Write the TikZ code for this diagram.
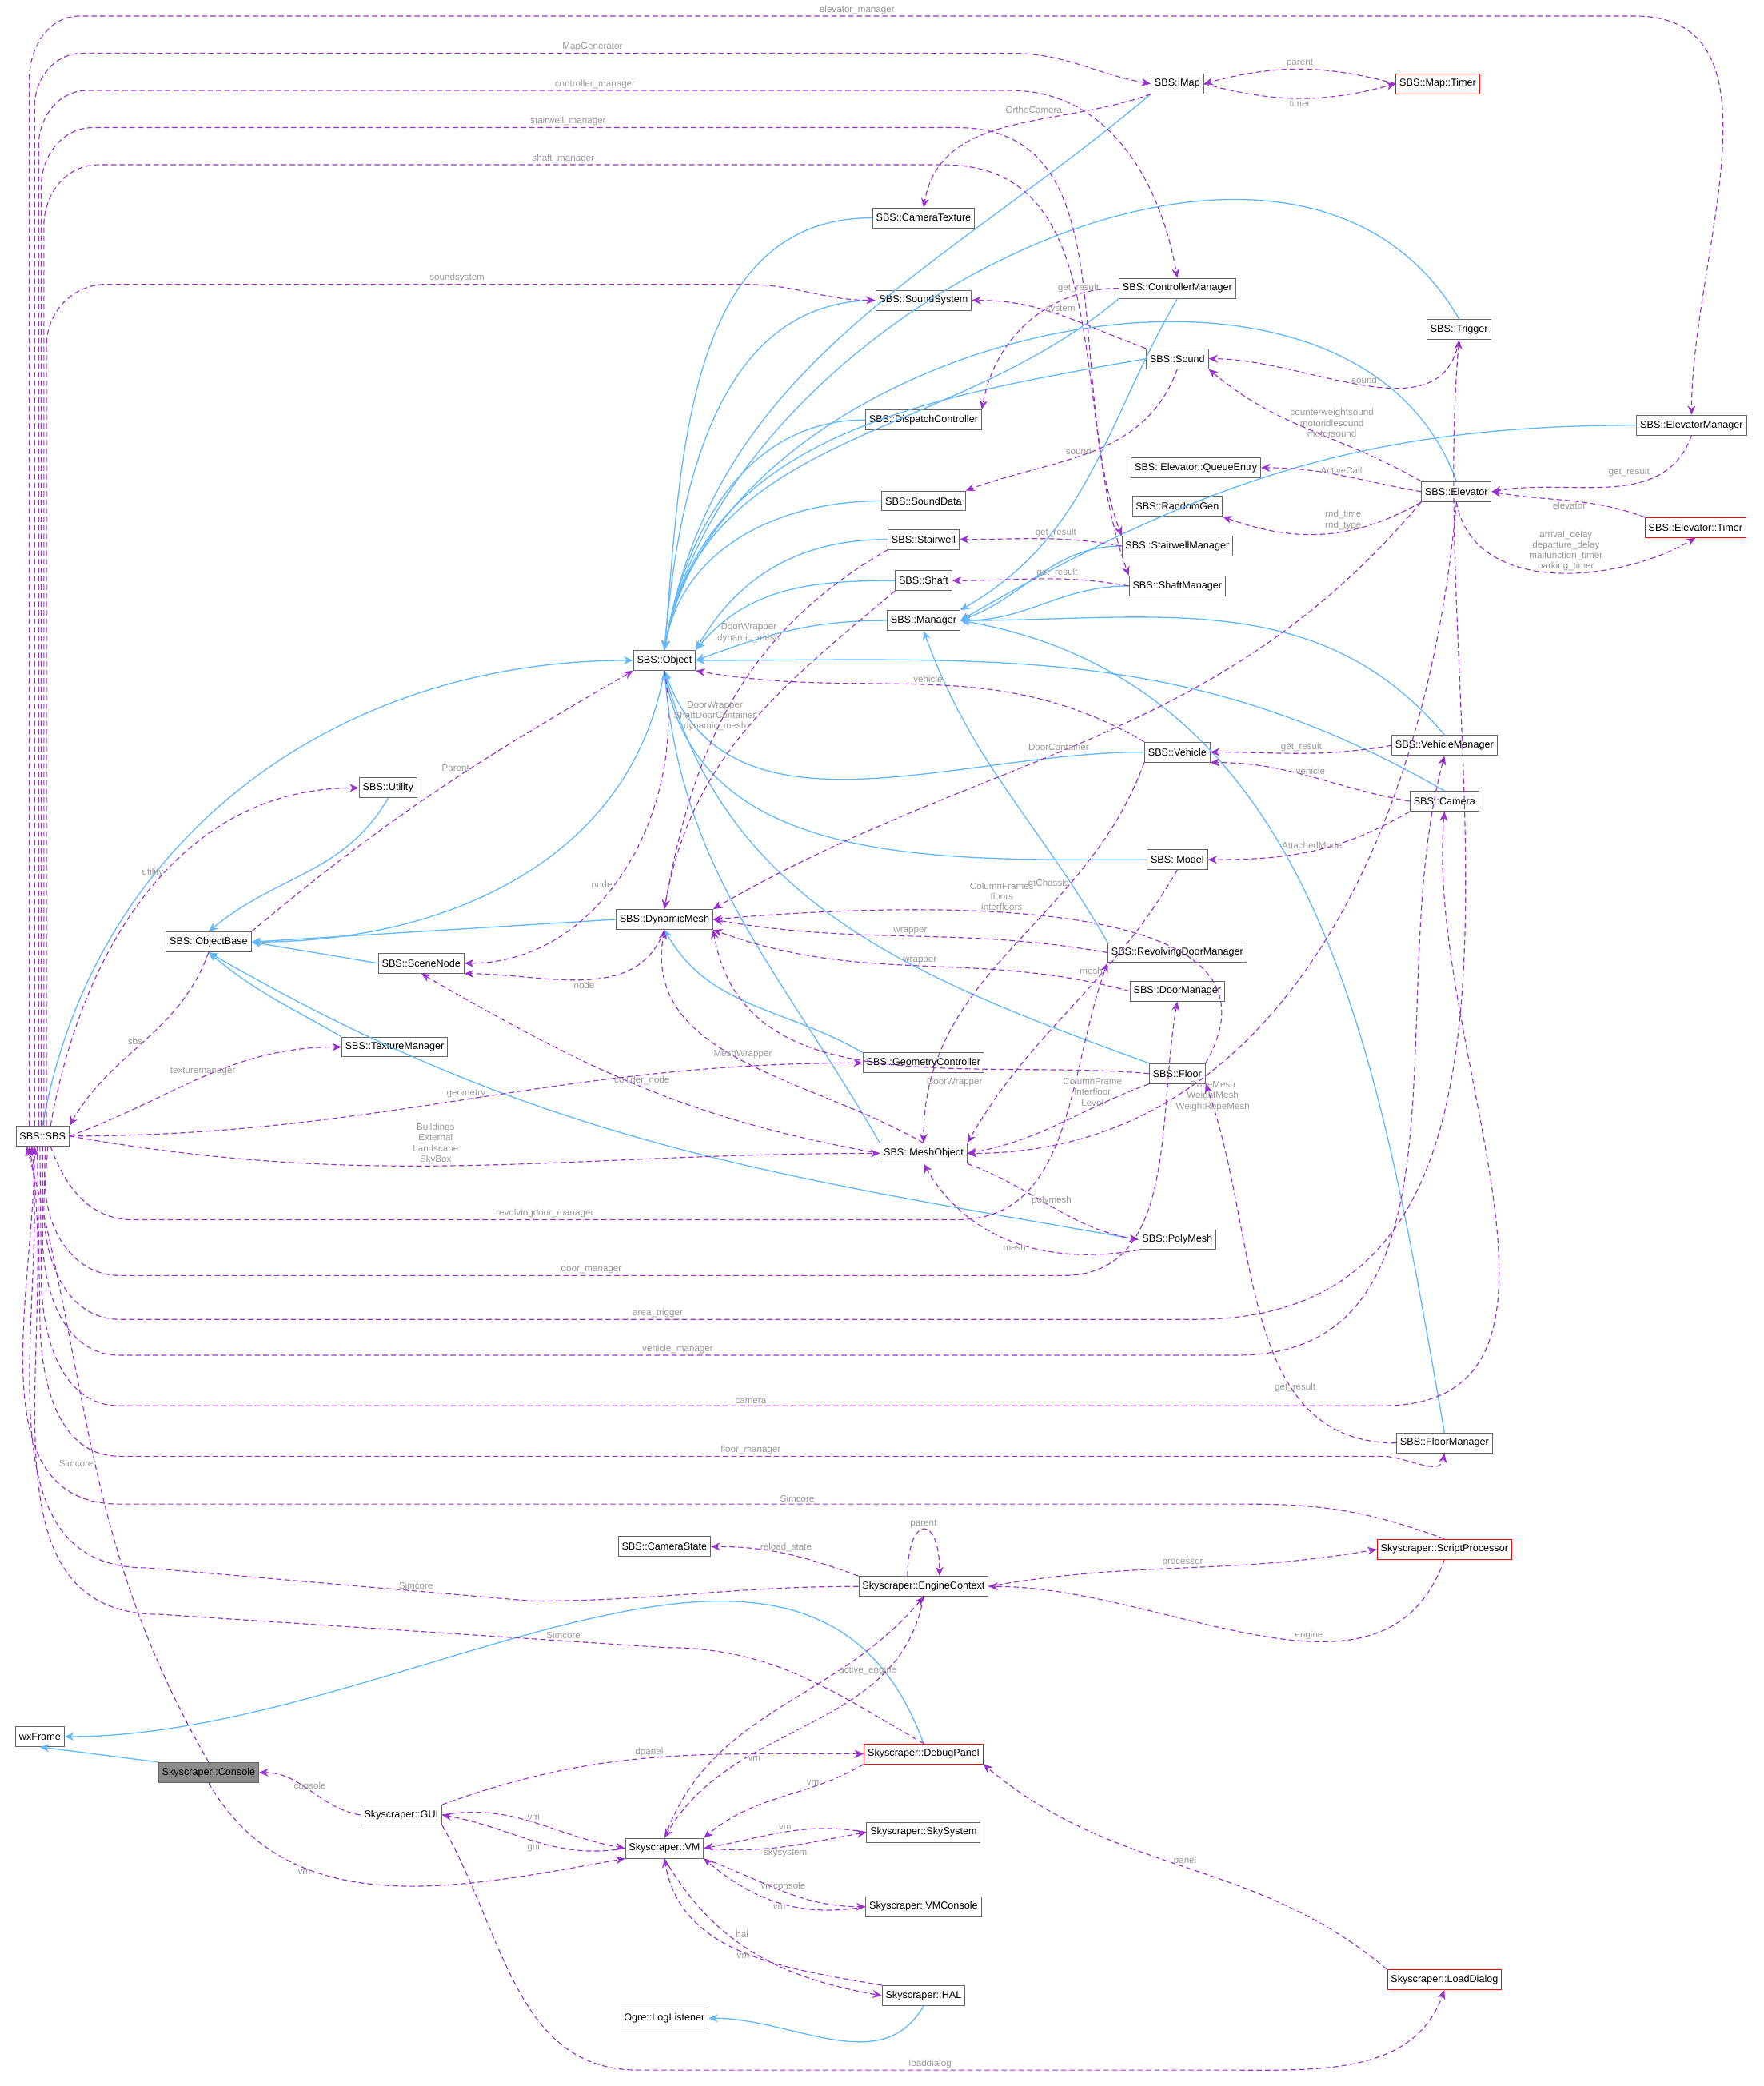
\documentclass[tikz,border=0pt]{standalone}
\usepackage{fontspec}
\setmainfont{Liberation Sans}
\usetikzlibrary{arrows.meta}
\definecolor{inhblue}{HTML}{63B8FF}
\definecolor{usepurple}{HTML}{9A32CD}
\definecolor{lblgray}{HTML}{9A9A9A}
\tikzset{
  cls/.style={draw=black!60, line width=0.3pt, inner sep=1.3pt, minimum height=7.5pt, font=\fontsize{3.8}{4.5}\selectfont},
  redcls/.style={cls, draw=red},
  curcls/.style={cls, fill=black!45},
  inh/.style={draw=inhblue, line width=0.4pt, -{Stealth[length=3.5pt,width=3pt]}},
  use/.style={draw=usepurple, line width=0.35pt, dash pattern=on 2pt off 1.2pt, -{Stealth[length=3.5pt,width=3pt]}},
  lbl/.style={text=lblgray, font=\fontsize{3.5}{4}\selectfont, align=center, inner sep=0.5pt}
}
\begin{document}
\begin{tikzpicture}[x=0.5pt,y=-0.5pt]
\useasboundingbox (0,0) rectangle (1327,1570);
% classes
\node[cls] (sbs) at (32,855) {SBS::SBS};
\node[cls] (wxframe) at (30,1307) {wxFrame};
\node[curcls] (console) at (157,1334) {Skyscraper::Console};
\node[cls] (map) at (886,63) {SBS::Map};
\node[redcls] (maptimer) at (1082,63) {SBS::Map::Timer};
\node[cls] (camtex) at (695,164) {SBS::CameraTexture};
\node[cls] (ctrlmgr) at (886,217) {SBS::ControllerManager};
\node[cls] (soundsys) at (695,226) {SBS::SoundSystem};
\node[cls] (trigger) at (1098,248) {SBS::Trigger};
\node[cls] (sound) at (886,270) {SBS::Sound};
\node[cls] (dispatch) at (695,316) {SBS::DispatchController};
\node[cls] (elevmgr) at (1273,320) {SBS::ElevatorManager};
\node[cls] (queueentry) at (900,352) {SBS::Elevator::QueueEntry};
\node[cls] (elevator) at (1096,370) {SBS::Elevator};
\node[cls] (sounddata) at (695,377) {SBS::SoundData};
\node[cls] (randomgen) at (886,381) {SBS::RandomGen};
\node[redcls] (elevtimer) at (1276,397) {SBS::Elevator::Timer};
\node[cls] (stairwell) at (695,406) {SBS::Stairwell};
\node[cls] (stairmgr) at (886,411) {SBS::StairwellManager};
\node[cls] (shaft) at (695,437) {SBS::Shaft};
\node[cls] (shaftmgr) at (886,441) {SBS::ShaftManager};
\node[cls] (manager) at (695,467) {SBS::Manager};
\node[cls] (object) at (500,497) {SBS::Object};
\node[cls] (vehmgr) at (1087,561) {SBS::VehicleManager};
\node[cls] (vehicle) at (886,566) {SBS::Vehicle};
\node[cls] (utility) at (292,593) {SBS::Utility};
\node[cls] (camera) at (1087,603) {SBS::Camera};
\node[cls] (model) at (886,647) {SBS::Model};
\node[cls] (dynmesh) at (500,692) {SBS::DynamicMesh};
\node[cls] (objbase) at (157,709) {SBS::ObjectBase};
\node[cls] (scenenode) at (317,725) {SBS::SceneNode};
\node[cls] (revdoormgr) at (886,717) {SBS::RevolvingDoorManager};
\node[cls] (doormgr) at (886,746) {SBS::DoorManager};
\node[cls] (texmgr) at (297,788) {SBS::TextureManager};
\node[cls] (geomctrl) at (695,800) {SBS::GeometryController};
\node[cls] (floor) at (886,808) {SBS::Floor};
\node[cls] (meshobj) at (695,868) {SBS::MeshObject};
\node[cls] (polymesh) at (886,933) {SBS::PolyMesh};
\node[cls] (floormgr) at (1087,1086) {SBS::FloorManager};
\node[cls] (camstate) at (500,1164) {SBS::CameraState};
\node[cls] (engine) at (695,1194) {Skyscraper::EngineContext};
\node[redcls] (scriptproc) at (1087,1166) {Skyscraper::ScriptProcessor};
\node[redcls] (debugpanel) at (695,1320) {Skyscraper::DebugPanel};
\node[cls] (gui) at (302,1366) {Skyscraper::GUI};
\node[cls] (vm) at (500,1391) {Skyscraper::VM};
\node[cls] (skysys) at (695,1379) {Skyscraper::SkySystem};
\node[cls] (vmconsole) at (695,1435) {Skyscraper::VMConsole};
\node[cls] (hal) at (695,1502) {Skyscraper::HAL};
\node[cls] (loglistener) at (500,1519) {Ogre::LogListener};
\node[redcls] (loaddialog) at (1087,1490) {Skyscraper::LoadDialog};

% inheritance
\draw[inh] (map.south west) to[out=220,in=80] (object.north);
\draw[inh] (camtex.west) to[out=180,in=85] (object.north);
\draw[inh] (ctrlmgr.south west) to[out=220,in=80] (object.north);
\draw[inh] (soundsys.west) to[out=180,in=85] (object.north);
\draw[inh] (trigger.north) to[out=120,in=80] (object.north);
\draw[inh] (sound.west) to[out=190,in=80] (object.north);
\draw[inh] (dispatch.west) to[out=180,in=80] (object.north);
\draw[inh] (elevator.north) to[out=110,in=80] (object.north);
\draw[inh] (sounddata.west) to[out=180,in=80] (object.north);
\draw[inh] (stairwell.west) to[out=180,in=60] (object.north east);
\draw[inh] (shaft.west) to[out=180,in=50] (object.north east);
\draw[inh] (manager.west) to[out=180,in=20] (object.east);
\draw[inh] (vehicle.west) to[out=180,in=-70] (object.south);
\draw[inh] (camera.north) to[out=150,in=0] (object.east);
\draw[inh] (model.west) to[out=180,in=-80] (object.south);
\draw[inh] (floor.north west) to[out=160,in=-75] (object.south);
\draw[inh] (meshobj.north west) to[out=120,in=-85] (object.south);
\draw[inh] (geomctrl.north west) to[out=150,in=-60] (dynmesh.south);
\draw[inh] (sbs.north) to[out=80,in=180] (object.west);
\draw[inh] (object.south) to[out=-100,in=0] (objbase.east);
\draw[inh] (dynmesh.west) -- (objbase.east);
\draw[inh] (utility.south) to[out=-120,in=40] (objbase.north);
\draw[inh] (scenenode.west) -- (objbase.east);
\draw[inh] (texmgr.north west) to[out=150,in=-40] (objbase.south);
\draw[inh] (polymesh.west) to[out=170,in=-30] (objbase.south);
\draw[inh] (ctrlmgr.south) to[out=-120,in=30] (manager.north east);
\draw[inh] (elevmgr.west) to[out=180,in=30] (manager.east);
\draw[inh] (stairmgr.west) to[out=180,in=20] (manager.east);
\draw[inh] (shaftmgr.west) to[out=180,in=0] (manager.east);
\draw[inh] (vehmgr.north) to[out=130,in=0] (manager.east);
\draw[inh] (revdoormgr.north west) to[out=120,in=-70] (manager.south);
\draw[inh] (floormgr.north) to[out=100,in=-10] (manager.east);
\draw[inh] (debugpanel.north) to[out=110,in=0] (wxframe.east);
\draw[inh] (console.north west) -- (wxframe.south);
\draw[inh] (hal.south) to[out=-120,in=0] (loglistener.east);

% usage from SBS::SBS, upwards
\draw[use] ([xshift=-5pt]sbs.north) -- (22,60) to[out=90,in=180] (60,12) -- node[lbl,above]{elevator\_manager} (1230,12) to[out=0,in=90] (elevmgr.north);
\draw[use] ([xshift=-3pt]sbs.north) -- (26,80) to[out=90,in=180] (62,40) -- node[lbl,above,pos=0.55]{MapGenerator} (760,40) to[out=0,in=170] (map.west);
\draw[use] ([xshift=-1.5pt]sbs.north) -- (29,110) to[out=90,in=180] (66,68) -- node[lbl,above,pos=0.55]{controller\_manager} (760,68) to[out=0,in=100] (ctrlmgr.north);
\draw[use] ([xshift=-0.5pt]sbs.north) -- (31,140) to[out=90,in=180] (70,96) -- node[lbl,above,pos=0.55]{stairwell\_manager} (720,96) to[out=0,in=110] (stairmgr.north west);
\draw[use] ([xshift=0.5pt]sbs.north) -- (33,170) to[out=90,in=180] (74,124) -- node[lbl,above,pos=0.55]{shaft\_manager} (710,124) to[out=0,in=110] (shaftmgr.north west);
\draw[use] ([xshift=1.5pt]sbs.north) -- (35,260) to[out=90,in=180] (80,214) -- node[lbl,above,pos=0.55]{soundsystem} (560,214) to[out=0,in=180] (soundsys.west);
\draw[use] ([xshift=3pt]sbs.north) to[out=80,in=180] node[lbl,pos=0.55,left]{utility} (utility.west);
\draw[use] (objbase.south) to[out=-110,in=60] node[lbl,pos=0.5,left]{sbs} (sbs.north east);
\draw[use] (sbs.east) to[out=20,in=180] node[lbl,pos=0.5,above]{texturemanager} (texmgr.west);
\draw[use] (sbs.east) to[out=0,in=180] node[lbl,pos=0.5,above]{geometry} (geomctrl.west);
\draw[use] (sbs.east) to[out=-10,in=180] node[lbl,pos=0.45,above]{Buildings\\External\\Landscape\\SkyBox} (meshobj.west);
% usage from SBS::SBS, downwards
\draw[use] ([xshift=3pt]sbs.south) to[out=-70,in=180] (100,918) -- node[lbl,above]{revolvingdoor\_manager} (720,918) to[out=0,in=-110] (revdoormgr.south west);
\draw[use] ([xshift=2pt]sbs.south) -- (34,890) to[out=-90,in=180] (90,960) -- node[lbl,above]{door\_manager} (800,960) to[out=0,in=-100] (doormgr.south);
\draw[use] ([xshift=1pt]sbs.south) -- (33,910) to[out=-90,in=180] (90,993) -- node[lbl,above]{area\_trigger} (900,993) to[out=0,in=-95] (trigger.south);
\draw[use] (sbs.south) -- (32,930) to[out=-90,in=180] (90,1020) -- node[lbl,above]{vehicle\_manager} (930,1020) to[out=0,in=-105] (vehmgr.south);
\draw[use] ([xshift=-1pt]sbs.south) -- (31,960) to[out=-90,in=180] (90,1058) -- node[lbl,above]{camera} (1040,1058) to[out=0,in=-95] (camera.south);
\draw[use] ([xshift=-2pt]sbs.south) -- (30,990) to[out=-90,in=180] (90,1096) -- node[lbl,above]{floor\_manager} (1040,1096) to[out=0,in=-100] (floormgr.south);
\draw[use] (scriptproc.north) to[out=160,in=0] (940,1132) -- node[lbl,above,pos=0.4]{Simcore} (90,1132) to[out=180,in=-90] ([xshift=-3pt]sbs.south);
\draw[use] (engine.west) to[out=180,in=0] (400,1205) -- node[lbl,above,pos=0.3]{Simcore} (110,1180) to[out=180,in=-85] ([xshift=-4pt]sbs.south);
\draw[use] (debugpanel.north) to[out=150,in=0] (500,1240) -- node[lbl,above,pos=0.2]{Simcore} (120,1215) to[out=180,in=-80] ([xshift=-5pt]sbs.south);
\draw[use] (console.north) to[out=120,in=-75] node[lbl,pos=0.5,left]{Simcore} ([xshift=-6pt]sbs.south);

% usage among SBS classes
\draw[use] (maptimer.west) to[out=165,in=15] node[lbl,above]{parent} (map.east);
\draw[use] (map.east) to[out=-15,in=195] node[lbl,below]{timer} (maptimer.west);
\draw[use] (map.south west) to[out=200,in=80] node[lbl,pos=0.3,above left]{OrthoCamera} (camtex.north);
\draw[use] (ctrlmgr.west) to[out=180,in=80] node[lbl,pos=0.2,above]{get\_result} (dispatch.north east);
\draw[use] (sound.north west) to[out=160,in=0] node[lbl,pos=0.5,above]{system} (soundsys.east);
\draw[use] (sound.south) to[out=-110,in=20] node[lbl,pos=0.5,left]{sound} (sounddata.north east);
\draw[use] (trigger.south) to[out=-100,in=0] node[lbl,pos=0.5,above]{sound} (sound.east);
\draw[use] (elevator.north west) to[out=150,in=-40] node[lbl,pos=0.4,above]{counterweightsound\\motoridlesound\\motorsound} (sound.south east);
\draw[use] (elevmgr.south) to[out=-110,in=10] node[lbl,pos=0.3,above left]{get\_result} (elevator.east);
\draw[use] (elevator.west) to[out=170,in=0] node[lbl,pos=0.5,above]{ActiveCall} (queueentry.east);
\draw[use] (elevator.south west) to[out=-150,in=-20] node[lbl,pos=0.4,above]{rnd\_time\\rnd\_type} (randomgen.south east);
\draw[use] (elevator.south) to[out=-80,in=-150] node[lbl,pos=0.55,above]{arrival\_delay\\departure\_delay\\malfunction\_timer\\parking\_timer} (elevtimer.south);
\draw[use] (elevtimer.north west) to[out=160,in=-10] node[lbl,pos=0.5,below]{elevator} (elevator.east);
\draw[use] (elevator.south west) to[out=-130,in=30] node[lbl,pos=0.55,above]{DoorContainer} (dynmesh.north east);
\draw[use] (elevator.south) to[out=-95,in=0] node[lbl,pos=0.75,right]{RopeMesh\\WeightMesh\\WeightRopeMesh} (meshobj.east);
\draw[use] (stairmgr.west) to[out=170,in=0] node[lbl,pos=0.4,above]{get\_result} (stairwell.east);
\draw[use] (shaftmgr.west) to[out=170,in=0] node[lbl,pos=0.4,above]{get\_result} (shaft.east);
\draw[use] (stairwell.south west) to[out=-150,in=80] node[lbl,pos=0.3,left]{DoorWrapper\\dynamic\_mesh} (dynmesh.north);
\draw[use] (shaft.south west) to[out=-140,in=80] node[lbl,pos=0.45,left]{DoorWrapper\\ShaftDoorContainer\\dynamic\_mesh} (dynmesh.north);
\draw[use] (vehicle.north west) to[out=150,in=-10] node[lbl,pos=0.5,above]{vehicle} (object.south east);
\draw[use] (vehmgr.west) to[out=190,in=0] node[lbl,pos=0.5,above]{get\_result} (vehicle.east);
\draw[use] (camera.west) to[out=170,in=0] node[lbl,pos=0.5,above]{vehicle} (vehicle.south east);
\draw[use] (camera.south west) to[out=-150,in=0] node[lbl,pos=0.5,above]{AttachedModel} (model.east);
\draw[use] (vehicle.south west) to[out=-110,in=90] node[lbl,pos=0.3,left]{mChassis} (meshobj.north);
\draw[use] (object.south) to[out=-80,in=0] node[lbl,pos=0.55,left]{node} (scenenode.east);
\draw[use] (objbase.north east) to[out=40,in=-150] node[lbl,pos=0.6,left]{Parent} (object.south west);
\draw[use] (dynmesh.south) to[out=-110,in=0] node[lbl,pos=0.5,below]{node} (scenenode.south east);
\draw[use] (revdoormgr.west) to[out=170,in=-10] node[lbl,pos=0.5,above]{wrapper} (dynmesh.east);
\draw[use] (doormgr.west) to[out=165,in=-20] node[lbl,pos=0.5,above]{wrapper} (dynmesh.south east);
\draw[use] (model.south) to[out=-120,in=60] node[lbl,pos=0.35,left]{mesh} (meshobj.north east);
\draw[use] (meshobj.north) to[out=150,in=-100] node[lbl,pos=0.5,above]{MeshWrapper} (dynmesh.south);
\draw[use] (meshobj.west) to[out=170,in=-30] node[lbl,pos=0.5,above]{collider\_node} (scenenode.south);
\draw[use] (floor.west) to[out=175,in=-80] node[lbl,pos=0.35,below=3pt]{DoorWrapper} (dynmesh.south east);
\draw[use] (floor.south west) to[out=-160,in=10] node[lbl,pos=0.3,above]{ColumnFrame\\Interfloor\\Level} (meshobj.east);
\draw[use] (floor.north east) to[out=60,in=5] node[lbl,pos=0.6,above]{ColumnFrames\\floors\\interfloors} (dynmesh.east);
\draw[use] (meshobj.south east) to[out=-20,in=170] node[lbl,pos=0.5,above]{polymesh} (polymesh.west);
\draw[use] (polymesh.south west) to[out=190,in=-60] node[lbl,pos=0.5,below]{mesh} (meshobj.south);
\draw[use] (floormgr.west) to[out=180,in=-70] node[lbl,pos=0.3,above]{get\_result} (floor.south east);

% usage among Skyscraper classes
\draw[use] (engine.north west) to[out=160,in=0] node[lbl,pos=0.5,above]{reload\_state} (camstate.east);
\draw[use] ([xshift=-6pt]engine.north) to[out=90,in=90,looseness=5] node[lbl,above]{parent} ([xshift=6pt]engine.north);
\draw[use] (engine.east) to[out=10,in=190] node[lbl,pos=0.5,above]{processor} (scriptproc.west);
\draw[use] (scriptproc.south) to[out=-110,in=0] node[lbl,pos=0.4,above]{engine} (engine.east);
\draw[use] (vm.north) to[out=70,in=-130] node[lbl,pos=0.7,right]{active\_engine} (engine.south);
\draw[use] (engine.south) to[out=-100,in=60] node[lbl,pos=0.7,right]{vm} (vm.north);
\draw[use] (debugpanel.south west) to[out=-150,in=40] node[lbl,pos=0.3,above]{vm} (vm.north east);
\draw[use] (gui.north east) to[out=20,in=180] node[lbl,pos=0.5,above]{dpanel} (debugpanel.west);
\draw[use] (gui.west) to[out=170,in=0] node[lbl,pos=0.5,above]{console} (console.east);
\draw[use] (gui.east) to[out=10,in=170] node[lbl,pos=0.5,above]{vm} (vm.west);
\draw[use] (vm.west) to[out=190,in=-10] node[lbl,pos=0.5,below]{gui} (gui.east);
\draw[use] (console.south) to[out=-60,in=190] node[lbl,pos=0.3,below]{vm} (vm.south west);
\draw[use] (vm.east) to[out=-5,in=190] node[lbl,pos=0.5,below]{skysystem} (skysys.west);
\draw[use] (skysys.west) to[out=170,in=10] node[lbl,pos=0.5,above]{vm} (vm.east);
\draw[use] (vm.south east) to[out=-20,in=180] node[lbl,pos=0.5,above]{vmconsole} (vmconsole.west);
\draw[use] (vmconsole.west) to[out=190,in=-40] node[lbl,pos=0.5,below]{vm} (vm.south east);
\draw[use] (vm.south) to[out=-60,in=170] node[lbl,pos=0.4,above right]{hal} (hal.west);
\draw[use] (hal.north west) to[out=170,in=-80] node[lbl,pos=0.5,below]{vm} (vm.south);
\draw[use] (loaddialog.north west) to[out=140,in=-40] node[lbl,pos=0.5,above]{panel} (debugpanel.south east);
\draw[use] (gui.south east) to[out=-60,in=180] (480,1558) -- node[lbl,above]{loaddialog} (920,1558) to[out=0,in=-110] (loaddialog.south);
\end{tikzpicture}
\end{document}
